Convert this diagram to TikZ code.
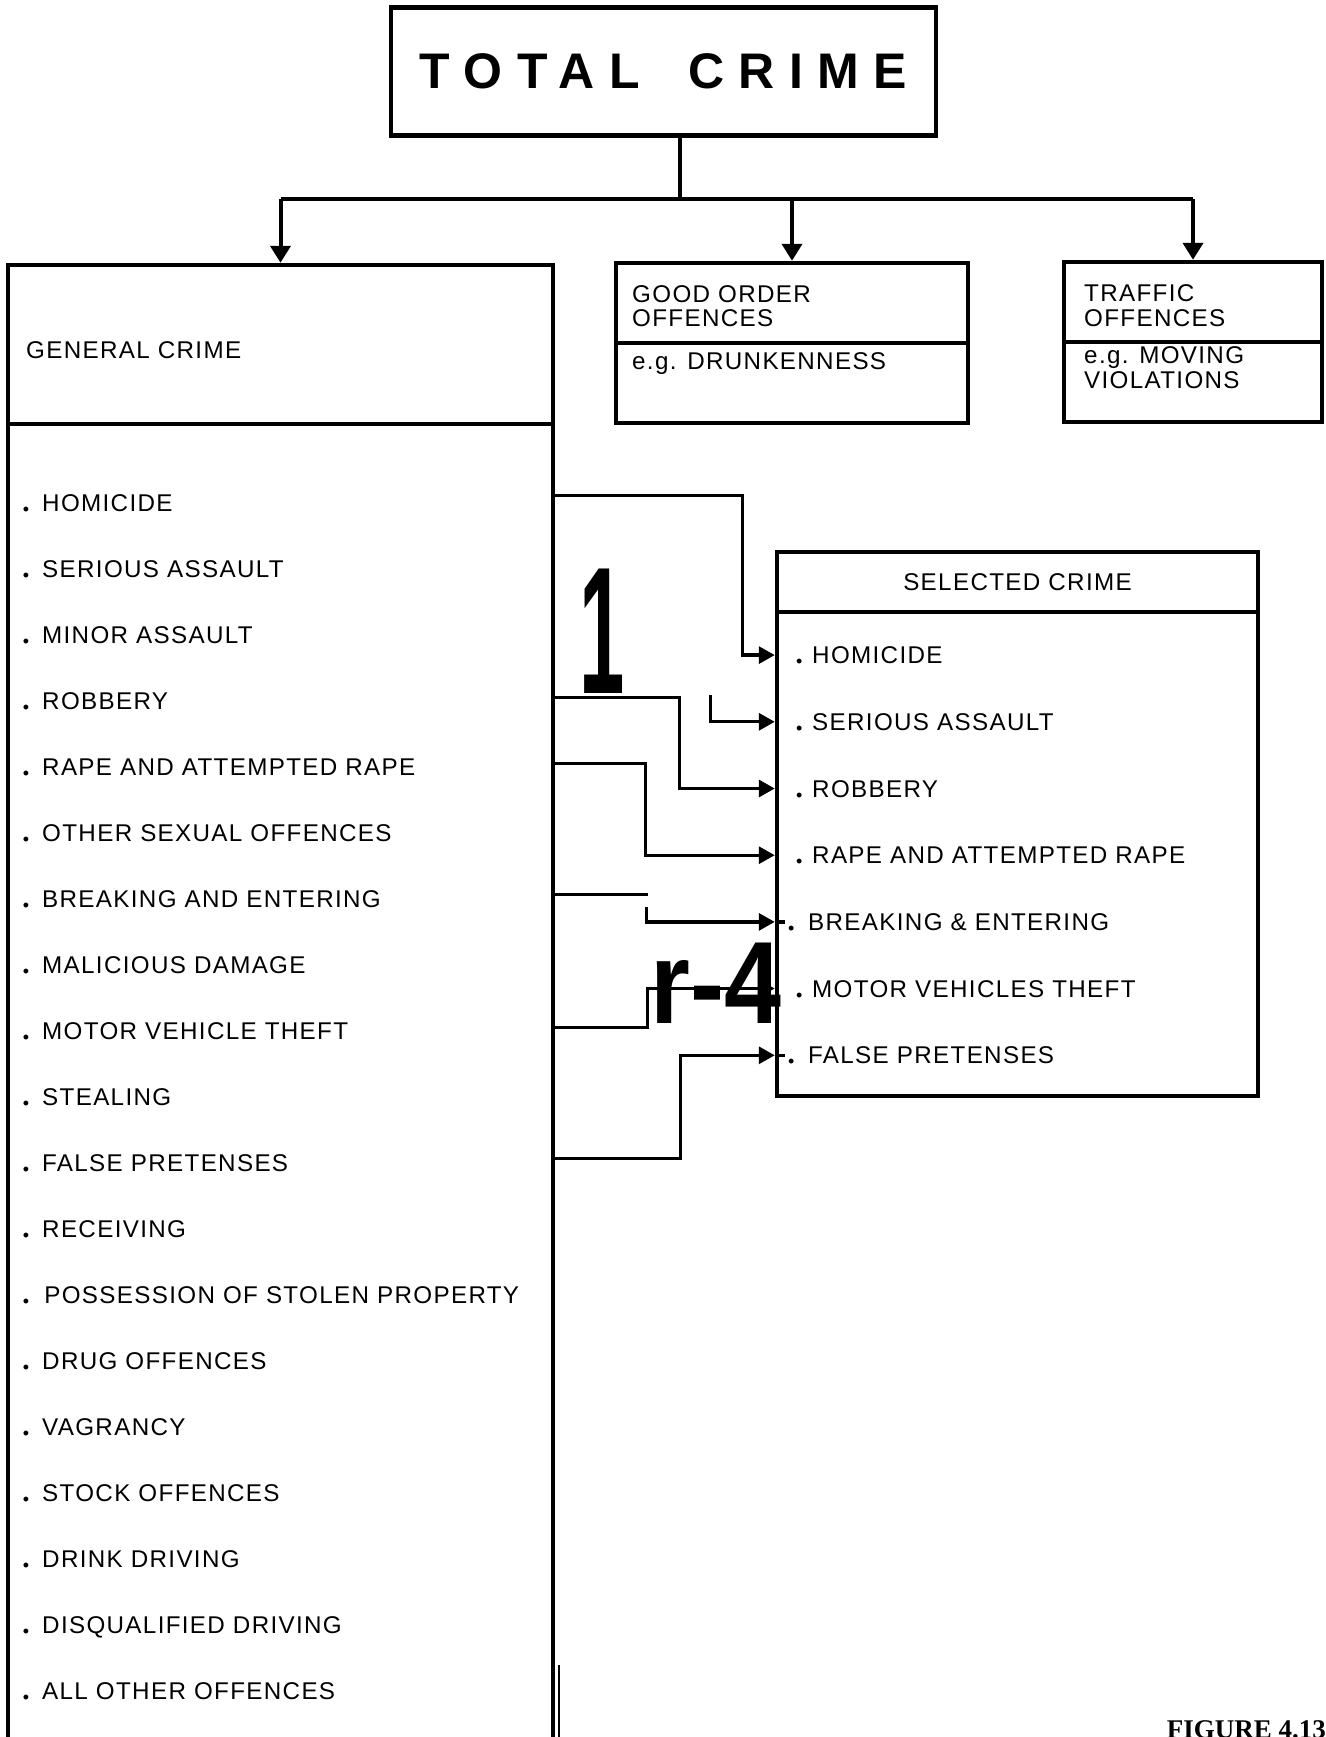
\documentclass[tikz,border=0pt]{standalone}
\usepackage{fontspec}
\usepackage{graphicx}
\setmainfont{Liberation Sans}
\newfontfamily\lblfont[LetterSpace=5.5]{Liberation Sans}
\newfontfamily\figfont{Liberation Serif}
\usetikzlibrary{arrows.meta}

\newcommand{\bul}{\raisebox{-4pt}{\fontsize{18}{18}\selectfont\textbullet}}

\begin{document}
\begin{tikzpicture}[x=1pt, y=-1pt,
    box/.style={draw, line width=4.5pt, rectangle, inner sep=0pt},
    txt/.style={inner sep=0pt, font=\lblfont\fontsize{24.2}{25}\selectfont},
    lab/.style={txt, anchor=base west},
    item/.style={txt, anchor=base west, text height=17pt, text depth=0pt},
    trunk/.style={line width=4pt},
    drop/.style={trunk, -{Triangle[length=17pt, width=20pt]}},
    link/.style={line width=3.3pt, -{Triangle[length=16pt, width=17pt]}},
    bare/.style={line width=3.3pt}]
    \useasboundingbox (0,0) rectangle (1325,1737);
    \clip (0,0) rectangle (1325,1737);

    % Boxes
    \node[box, minimum width=545pt, minimum height=128pt,
        font=\fontsize{50}{50}\selectfont\bfseries\addfontfeature{LetterSpace=29}] (total) at (663.5,71.5) {TOTAL \hspace{20pt}CRIME};
    \node[box, minimum width=545pt, minimum height=159pt] (gc-head) at (280.5,344.5) {};
    \node[box, minimum width=545pt, minimum height=1336pt] (gc-list) at (280.5,1092) {};
    \node[box, minimum width=352pt, minimum height=80pt] (go-head) at (792,303) {};
    \node[box, minimum width=352pt, minimum height=80pt] (go-body) at (792,383) {};
    \node[box, minimum width=258pt, minimum height=80pt] (tr-head) at (1193,302) {};
    \node[box, minimum width=258pt, minimum height=80pt] (tr-body) at (1193,382) {};
    \node[box, txt, minimum width=481pt, minimum height=60pt] (sc-head) at (1017.5,582) {SELECTED CRIME};
    \node[box, minimum width=481pt, minimum height=484pt] (sc-list) at (1017.5,854) {};

    % Box texts
    \node[lab] (gc-t) at (26,358) {GENERAL CRIME};
    \node[lab] (go-t1) at (632,302.7) {GOOD ORDER};
    \node[lab] (go-t2) at (632,326) {OFFENCES};
    \node[lab] (go-t3) at (632,369.3) {e.g. DRUNKENNESS};
    \node[lab] (tr-t1) at (1084,301) {TRAFFIC};
    \node[lab] (tr-t2) at (1084,326) {OFFENCES};
    \node[lab] (tr-t3) at (1084,363) {e.g. MOVING};
    \node[lab] (tr-t4) at (1084,388) {VIOLATIONS};

    % General crime list
    \node[item] (g-hom) at (22.8,511) {\bul\hspace{12.9pt}HOMICIDE};
    \node[item] (g-sas) at (22.8,577) {\bul\hspace{12.9pt}SERIOUS ASSAULT};
    \node[item] (g-mas) at (22.8,643) {\bul\hspace{12.9pt}MINOR ASSAULT};
    \node[item] (g-rob) at (22.8,709) {\bul\hspace{12.9pt}ROBBERY};
    \node[item] (g-rap) at (22.8,775) {\bul\hspace{12.9pt}RAPE AND ATTEMPTED RAPE};
    \node[item] (g-sex) at (22.8,841) {\bul\hspace{12.9pt}OTHER SEXUAL OFFENCES};
    \node[item] (g-bre) at (22.8,907) {\bul\hspace{12.9pt}BREAKING AND ENTERING};
    \node[item] (g-mal) at (22.8,973) {\bul\hspace{12.9pt}MALICIOUS DAMAGE};
    \node[item] (g-mvt) at (22.8,1039) {\bul\hspace{12.9pt}MOTOR VEHICLE THEFT};
    \node[item] (g-ste) at (22.8,1105) {\bul\hspace{12.9pt}STEALING};
    \node[item] (g-fal) at (22.8,1171) {\bul\hspace{12.9pt}FALSE PRETENSES};
    \node[item] (g-rec) at (22.8,1237) {\bul\hspace{12.9pt}RECEIVING};
    \node[item] (g-pos) at (22.8,1303) {\bul\hspace{15pt}POSSESSION OF STOLEN PROPERTY};
    \node[item] (g-dru) at (22.8,1369) {\bul\hspace{12.9pt}DRUG OFFENCES};
    \node[item] (g-vag) at (22.8,1435) {\bul\hspace{12.9pt}VAGRANCY};
    \node[item] (g-sto) at (22.8,1501) {\bul\hspace{12.9pt}STOCK OFFENCES};
    \node[item] (g-dri) at (22.8,1567) {\bul\hspace{12.9pt}DRINK DRIVING};
    \node[item] (g-dis) at (22.8,1633) {\bul\hspace{12.9pt}DISQUALIFIED DRIVING};
    \node[item] (g-oth) at (22.8,1699) {\bul\hspace{12.9pt}ALL OTHER OFFENCES};

    % Selected crime list
    \node[item] (s-hom) at (795.8,663.6) {\bul\hspace{9.9pt}HOMICIDE};
    \node[item] (s-sas) at (795.8,730.3) {\bul\hspace{9.9pt}SERIOUS ASSAULT};
    \node[item] (s-rob) at (795.8,797) {\bul\hspace{9.9pt}ROBBERY};
    \node[item] (s-rap) at (795.8,863.7) {\bul\hspace{9.9pt}RAPE AND ATTEMPTED RAPE};
    \node[item] (s-bre) at (787.8,930.4) {\bul\hspace{13.9pt}BREAKING \& ENTERING};
    \node[item] (s-mvt) at (795.8,997) {\bul\hspace{9.9pt}MOTOR VEHICLES THEFT};
    \node[item] (s-fal) at (787.8,1063.8) {\bul\hspace{13.9pt}FALSE PRETENSES};

    % Lines
    \coordinate (hub) at (680,199);
    \draw[trunk] (total.south -| hub) -- (hub);
    \draw[trunk] (gc-head.north |- hub) -- (tr-head.north |- hub);
    \draw[drop] (gc-head.north |- hub) -- (gc-head.north);
    \draw[drop] (go-head.north |- hub) -- (go-head.north);
    \draw[drop] (tr-head.north |- hub) -- (tr-head.north);

    \coordinate (o-hom) at ([yshift=7pt]gc-list.east |- g-hom);
    \coordinate (o-rob) at ([yshift=3pt]gc-list.east |- g-rob);
    \coordinate (o-rap) at ([yshift=3pt]gc-list.east |- g-rap);
    \coordinate (o-bre) at ([yshift=4pt]gc-list.east |- g-bre);
    \coordinate (o-mvt) at ([yshift=3pt]gc-list.east |- g-mvt);
    \coordinate (o-fal) at ([yshift=4pt]gc-list.east |- g-fal);
    \coordinate (f-sas) at ([xshift=-64pt, yshift=27pt]sc-list.west |- s-sas);
    \coordinate (f-bre) at ([xshift=-128pt, yshift=15pt]sc-list.west |- s-bre);

    \draw[link] (o-hom) -| ([xshift=-32pt]sc-list.west |- s-hom) -- (sc-list.west |- s-hom);
    \draw[link] (f-sas) |- (sc-list.west |- s-sas);
    \draw[link] (o-rob) -| ([xshift=-95pt]sc-list.west |- s-rob) -- (sc-list.west |- s-rob);
    \draw[link] (o-rap) -| ([xshift=-129pt]sc-list.west |- s-rap) -- (sc-list.west |- s-rap);
    \draw[bare] (o-bre) -- ([xshift=-127pt]sc-list.west |- o-bre);
    \draw[link] (f-bre) |- (sc-list.west |- s-bre);
    \draw[bare] (sc-list.west |- s-bre) -- ++(10,0);
    \draw[link] (o-mvt) -| ([xshift=-127pt]sc-list.west |- s-mvt) -- (sc-list.west |- s-mvt);
    \draw[link] (o-fal) -| ([xshift=-94pt]sc-list.west |- s-fal) -- (sc-list.west |- s-fal);
    \draw[bare] (sc-list.west |- s-fal) -- ++(10,0);
    \draw[line width=2pt] ([xshift=4pt]gc-list.east |- 0,1665) -- ([xshift=4pt]gc-list.east |- 0,1760);

    % Stray marks
    \node[inner sep=0pt, anchor=base west, font=\fontsize{181}{181}\selectfont\bfseries] (one) at (579,693) {\scalebox{0.45}[1]{1}};
    \node[inner sep=0pt, anchor=base west, font=\fontsize{117}{117}\selectfont\bfseries] (rfour) at (650,1023) {\scalebox{0.875}[1]{r-4}};
    \node[inner sep=0pt, anchor=base east, font=\figfont\bfseries\fontsize{27}{27}\selectfont] (fig) at (1326,1738) {FIGURE 4.13};
\end{tikzpicture}
\end{document}
